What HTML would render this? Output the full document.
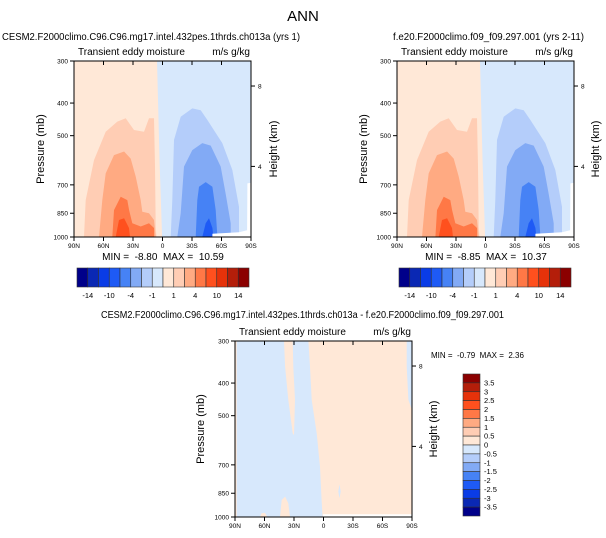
<!DOCTYPE html>
<html><head><meta charset="utf-8"><style>
body{margin:0;background:#fff}
svg{display:block;font-family:"Liberation Sans",Arial,sans-serif}
text{white-space:pre}
</style></head><body>
<svg id="s" width="606" height="538" viewBox="0 0 606 538" xmlns="http://www.w3.org/2000/svg">
<text x="303" y="21" font-size="15" text-anchor="middle">ANN</text>
</svg>
<script>
// ---- data (lat in degrees, +N; pressure in mb) ----
const latTicks = [90, 60, 30, 0, -30, -60, -90];
const latLabels = ["90N", "60N", "30N", "0", "30S", "60S", "90S"];
const presTicks = [300, 400, 500, 700, 850, 1000];
const heightTicks = [8, 4];
const heightPres = [356, 617];
const levelColors = ["#00008a","#0a28b4","#0a3ce6","#1e5af5","#4682f5","#82aaf5","#b4cdfa","#d7e8fc","#ffe8d7","#ffcdb4","#ffaa82","#ff7846","#ff501e","#e6320a","#b41e0a","#8b0000"];
const topLevelLabels = ["-14","","-10","","-4","","-1","","1","","4","","10","","14"];
const diffLevelLabels = ["3.5","3","2.5","2","1.5","1","0.5","0","-0.5","-1","-1.5","-2","-2.5","-3","-3.5"];
// control-run contour regions
const posZero = [[90,300],[5.6,300],[3,600],[0.4,1000],[90,1000]];
const posL1 = [[79.8,1000],[78.1,777],[69.7,591],[57.8,487],[46,454],[37.4,444],[29,481],[18.8,487],[13.7,444],[8.6,444],[7.6,618],[6.9,931],[6.1,1000]];
const posL2 = [[64.6,1000],[61.2,777],[57.8,647],[49.3,571],[39.1,557],[32.3,585],[27.3,661],[22.2,777],[20.5,841],[13.7,850],[8.6,890],[7,1000]];
const posL3 = [[51,1000],[49.3,832],[42.5,759],[35.8,777],[34,832],[30.7,910],[22.2,931],[13.7,910],[8.6,940],[8.6,1000]];
const posL4 = [[47.6,1000],[44.2,890],[39.1,880],[34.1,940],[33.1,1000]];
const negL1 = [[-8.3,1000],[-10,777],[-11.7,515],[-18.5,439],[-30.3,415],[-38.8,420],[-45.6,449],[-60.8,526],[-71,632],[-77.8,814],[-77.8,1000]];
const negL2 = [[-15,1000],[-18.5,850],[-21.9,618],[-30.3,552],[-40.5,526],[-49,535],[-59.2,618],[-64.3,745],[-69.4,910],[-69.4,1000]];
const negL3 = [[-33.8,1000],[-35.4,777],[-37.1,709],[-43.9,687],[-50.7,709],[-54.1,832],[-55.8,1000]];
const negL4 = [[-40.5,1000],[-43.9,910],[-47.3,880],[-50.7,940],[-51.8,1000]];
const missing = [[-90,690],[-86.3,693],[-86,955],[-77.8,968],[-50.7,978],[-50.7,1000],[-90,1000]];
// difference contour regions
const diffNeg = [[88.3,300],[40.2,300],[39.1,358],[35.8,449],[31.3,564],[30,571],[29,449],[30.7,358],[31.3,300],[15.4,300],[13.7,358],[12,449],[6.9,564],[3.6,709],[1.9,890],[0.9,1000],[88.3,1000]];
const diffPos1 = [[44.2,1000],[42.5,890],[39.1,870],[35.8,910],[34.1,1000]];
const diffPos2 = [[64.6,1000],[62.9,975],[59.5,971],[57.2,1000]];
const diffNegR = [[-84.6,300],[-90,300],[-90,481],[-86.3,449],[-84.6,358]];
const diffNegBlob = [[-15,840],[-16.3,800],[-17.5,840],[-16.3,880]];
const diffMissing = [[0.5,982],[-90,982],[-90,1000],[0.5,1000]];

const NS = "http://www.w3.org/2000/svg";
const svg = document.getElementById("s");
function mk(tag, attrs, parent) {
  const e = document.createElementNS(NS, tag);
  for (const k in attrs) e.setAttribute(k, attrs[k]);
  (parent || svg).appendChild(e);
  return e;
}
function txt(x, y, s, size, anchor, parent, rot) {
  const t = mk("text", {x: x, y: y, "font-size": size, "text-anchor": anchor || "start"}, parent);
  if (rot) t.setAttribute("transform", "rotate(-90 " + x + " " + y + ")");
  t.textContent = s;
  return t;
}
const L300 = Math.log(300), L1000 = Math.log(1000);

function panel(name, x0, y0, w, h, regions, titleL, labelX, heightLabelX) {
  const g = mk("g", {});
  
  
  const xs = lat => x0 + (90 - lat) / 180 * w;
  const ys = p => y0 + (Math.log(p) - L300) / (L1000 - L300) * h;
  mk("rect", {x: x0, y: y0, width: w, height: h, fill: regions.bg}, g);
  regions.list.forEach(r => {
    const pg = mk("polygon", {points: r.pts.map(q => xs(q[0]).toFixed(1) + "," + ys(q[1]).toFixed(1)).join(" "), fill: r.color, "stroke-linejoin": "round"}, g);
    
    
  });
  mk("rect", {x: x0, y: y0, width: w, height: h, fill: "none", stroke: "#000", "stroke-width": 1}, g);
  latTicks.forEach((lat, i) => {
    const x = xs(lat);
    mk("line", {x1: x, y1: y0 + h, x2: x, y2: y0 + h + 4, stroke: "#000"}, g);
    mk("line", {x1: x, y1: y0, x2: x, y2: y0 + 4, stroke: "#000"}, g);
    const t = txt(x, y0 + h + 11, latLabels[i], 6.5, "middle", g);
    
    
  });
  presTicks.forEach(p => {
    const y = ys(p);
    mk("line", {x1: x0 - 4, y1: y, x2: x0, y2: y, stroke: "#000"}, g);
    const t = txt(x0 - 6, y + 2.5, String(p), 6.5, "end", g);
    
    
  });
  heightTicks.forEach((hk, i) => {
    const y = ys(heightPres[i]);
    mk("line", {x1: x0 + w, y1: y, x2: x0 + w + 4, y2: y, stroke: "#000"}, g);
    const t = txt(x0 + w + 7, y + 2.5, String(hk), 6.5, "start", g);
    
    
  });
  const a = txt(x0 + 4, y0 - 6, "Transient eddy moisture", 10, "start", g);
  
  
  const u = txt(x0 + w - 1, y0 - 6, "m/s g/kg", 10, "end", g);
  
  
  const yl = txt(labelX, y0 + h / 2, "Pressure (mb)", 11, "middle", g, true);
  
  
  const hl = txt(heightLabelX, y0 + h / 2, "Height (km)", 11, "middle", g, true);
  
  
  const tt = txt(titleL[1], titleL[2], titleL[0], 10, "start", g);
  tt.setAttribute("textLength", titleL[3]);
  tt.setAttribute("lengthAdjust", "spacingAndGlyphs");
  
  
}

const C = levelColors;
const topRegions = {bg: C[7], list: [
  {pts: posZero, color: C[8]}, {pts: posL1, color: C[9]}, {pts: posL2, color: C[10]},
  {pts: posL3, color: C[11]}, {pts: posL4, color: C[12]},
  {pts: negL1, color: C[6]}, {pts: negL2, color: C[5]}, {pts: negL3, color: C[4]}, {pts: negL4, color: C[3]},
  {pts: missing, color: "#ffffff"}]};
panel("test-panel", 74, 61, 177, 176, topRegions, ["CESM2.F2000climo.C96.C96.mg17.intel.432pes.1thrds.ch013a (yrs 1)", 2, 40, 298], 44, 277);
panel("control-panel", 397, 61, 177, 176, topRegions, ["f.e20.F2000climo.f09_f09.297.001 (yrs 2-11)", 393, 40, 191], 367, 599);
const diffRegions = {bg: C[8], list: [
  {pts: diffNeg, color: C[7]}, {pts: diffPos1, color: C[8]}, {pts: diffPos2, color: C[8]},
  {pts: diffNegR, color: C[7]}, {pts: diffNegBlob, color: C[7]}, {pts: diffMissing, color: "#ffffff"}]};
panel("diff-panel", 235, 341, 177, 176, diffRegions, ["CESM2.F2000climo.C96.C96.mg17.intel.432pes.1thrds.ch013a - f.e20.F2000climo.f09_f09.297.001", 101, 318, 403], 204, 437);

// min/max
[["MIN =  -8.80  MAX =  10.59", 163, 260], ["MIN =  -8.85  MAX =  10.37", 486, 260]].forEach(m => {
  const t = txt(m[1], m[2], m[0], 10, "middle");
  
  
});
const mm = txt(431, 358, "MIN =  -0.79  MAX =  2.36", 8, "start");



// horizontal colorbars
function hbar(name, x0) {
  const g = mk("g", {});
  
  
  const bw = 172 / 16;
  C.forEach((c, i) => {
    const r = mk("rect", {x: x0 + i * bw, y: 268, width: bw, height: 19, fill: c, stroke: "#333", "stroke-width": 0.6}, g);
    
    
  });
  topLevelLabels.forEach((s, i) => {
    if (!s) return;
    const t = txt(x0 + (i + 1) * bw, 298, s, 7.5, "middle", g);
    
    
  });
}
hbar("test-colorbar", 77);
hbar("control-colorbar", 399);

// vertical colorbar
(function () {
  const g = mk("g", {});
  
  
  const bh = 142 / 16;
  for (let i = 0; i < 16; i++) {
    const r = mk("rect", {x: 463, y: 374 + i * bh, width: 17, height: bh, fill: C[15 - i], stroke: "#333", "stroke-width": 0.6}, g);
    
    
  }
  diffLevelLabels.forEach((s, i) => {
    const t = txt(484, 374 + (i + 1) * bh + 2.5, s, 7.5, "start", g);
    
    
  });
})();
</script>
</body></html>
